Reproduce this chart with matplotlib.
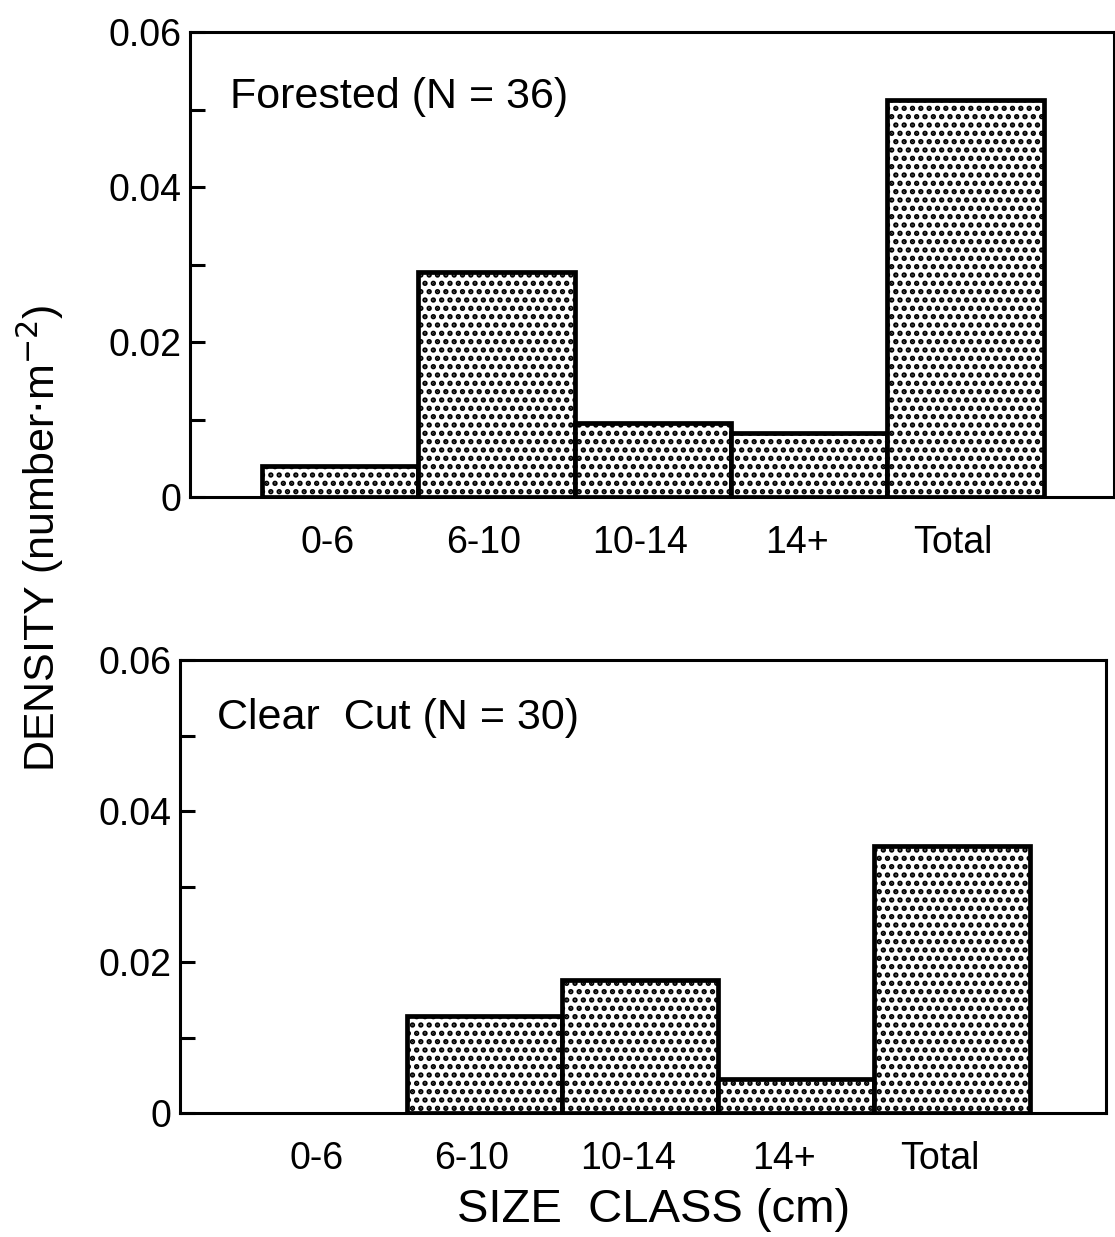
import numpy as np
import matplotlib.pyplot as plt
from matplotlib.ticker import MultipleLocator, FixedFormatter, FixedLocator

plt.rcParams['font.family'] = ['Liberation Sans', 'DejaVu Sans']
plt.rcParams['hatch.linewidth'] = 2.6

classes = ['0-6', '6-10', '10-14', '14+', 'Total']
forested = [0.0040, 0.0290, 0.0095, 0.0083, 0.0512]
clearcut = [0.0, 0.0128, 0.0176, 0.0045, 0.0354]
yticks = [0, 0.02, 0.04, 0.06]
yticklabels = ['0', '0.02', '0.04', '0.06']

fig = plt.figure(figsize=(11.15, 12.37), dpi=100)
ax1 = fig.add_axes([0.1704, 0.5982, 0.8286, 0.3759])
ax2 = fig.add_axes([0.1614, 0.1002, 0.8306, 0.3662])


def draw(ax, vals, title, xlim, tx, ty):
    x = np.arange(len(classes))
    for xi, v in zip(x, vals):
        if v > 0:
            ax.bar(xi, v, width=1.0, color='white', edgecolor='black',
                   linewidth=3.4, hatch='..', zorder=2)
    ax.set_xlim(*xlim)
    ax.set_ylim(0, 0.06)
    ax.set_xticks(x - 0.08)
    ax.set_xticklabels(classes, fontsize=27)
    ax.tick_params(axis='x', length=0, pad=20)
    ax.yaxis.set_major_locator(FixedLocator(yticks))
    ax.yaxis.set_major_formatter(FixedFormatter(yticklabels))
    ax.yaxis.set_minor_locator(MultipleLocator(0.01))
    ax.tick_params(axis='y', which='both', direction='in', length=11,
                   width=2.2, labelsize=27, pad=6)
    for s in ax.spines.values():
        s.set_linewidth(2.2)
    ax.text(tx, ty, title, transform=ax.transAxes, fontsize=31,
            ha='left', va='center')


draw(ax1, forested, 'Forested (N = 36)', (-0.96, 4.95), 0.043, 0.86)
draw(ax2, clearcut, 'Clear  Cut (N = 30)', (-0.955, 4.99), 0.04, 0.872)

fig.text(0.036, 0.565, r'DENSITY (number$\cdot$m$^{-2}$)', rotation=90,
         fontsize=31, ha='center', va='center')
fig.text(0.586, 0.022, 'SIZE  CLASS (cm)', fontsize=34, ha='center',
         va='center')

fig.savefig('out.png', dpi=100)
